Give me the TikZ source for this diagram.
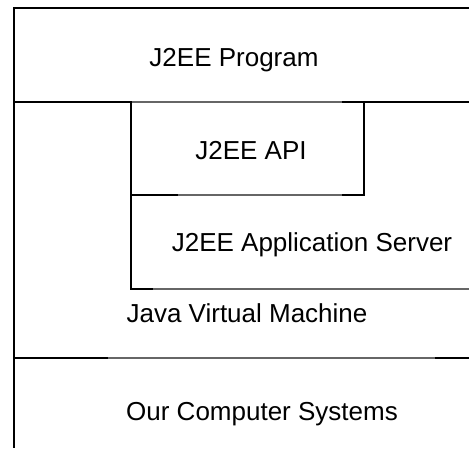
\documentclass[tikz,border=0pt]{standalone}
\usepackage{fontspec}
\setmainfont{Liberation Sans}
\begin{document}
\begin{tikzpicture}[x=1pt,y=-1pt,
	wall/.style={line width=2pt,black},
	seam/.style={line width=1.1pt,black!60},
	layer/.style={anchor=base,inner sep=0pt,font=\fontsize{26}{31}\selectfont}]
	\useasboundingbox (0,0) rectangle (469,448);
	\draw 
	coordinate(T1)at(14,8)
	coordinate(T2)at(469,8)
	coordinate(L)at(14,448)
	coordinate(A1)at(14,102)
	coordinate(A2)at(131,102)
	coordinate(A3)at(342,102)
	coordinate(A4)at(469,102)
	coordinate(A5)at(364,102)
	coordinate(B1)at(131,195)
	coordinate(B2)at(178,195)
	coordinate(B3)at(342,195)
	coordinate(B4)at(364,195)
	coordinate(C1)at(131,289)
	coordinate(C2)at(153,289)
	coordinate(C3)at(469,289)
	coordinate(D1)at(14,358)
	coordinate(D2)at(108,358)
	coordinate(D3)at(435,358)
	coordinate(D4)at(469,358);
	
	\node[layer](prog)at(234,66){J2EE Program};
	\node[layer](api)at(251,159){J2EE API};
	\node[layer](server)at(312,251){J2EE Application Server};
	\node[layer](jvm)at(247,322){Java Virtual Machine};
	\node[layer](os)at(262,420){Our Computer Systems};
	
	\draw[seam](A2)--(A3);
	\draw[seam](B2)--(B3);
	\draw[seam](C2)--(C3);
	\draw[seam](D2)--(D3);
	\draw[wall](T2)--(T1)--(L);
	\draw[wall](A1)--(A2)--(C1)--(C2);
	\draw[wall](A3)--(A4);
	\draw[wall](A5)--(B4)--(B3);
	\draw[wall](B1)--(B2);
	\draw[wall](D1)--(D2);
	\draw[wall](D3)--(D4);
\end{tikzpicture}
\end{document}
